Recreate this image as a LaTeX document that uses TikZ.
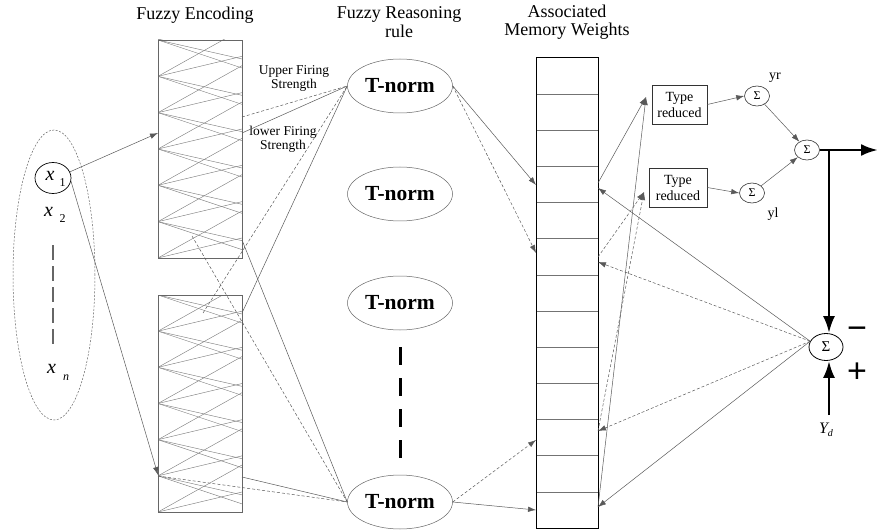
\documentclass[tikz,border=0pt]{standalone}
\usepackage{fontspec}
\setmainfont{Liberation Serif}
\newfontfamily\sansf{Liberation Sans}
\usetikzlibrary{arrows.meta,shapes.geometric}
\newcommand\xsubtxt[2]{{\fontsize{20}{20}\selectfont\itshape x}\hspace{5pt}\raisebox{-6pt}{\fontsize{12}{12}\selectfont #2#1}}
\begin{document}
\begin{tikzpicture}[x=1pt,y=-1pt,
  ln/.style={draw=black!65, line width=0.5pt},
  dl/.style={draw=black!65, line width=0.5pt, dash pattern=on 3pt off 2pt},
  hatch/.style={draw=black!50, line width=0.45pt},
  tip/.style={-{Latex[length=8pt,width=5.5pt]}},
  big/.style={line width=2.8pt, draw=black, -{Latex[length=17pt,width=12pt]}},
  tn/.style={ellipse, draw=black!60, line width=0.5pt, minimum width=105pt, minimum height=54pt, inner sep=0pt, font=\fontsize{21.5}{22}\selectfont\bfseries},
  sig/.style={ellipse, draw=black!80, line width=0.6pt, minimum width=25pt, minimum height=20pt, inner sep=0pt, font=\fontsize{12}{12}\selectfont},
  trbox/.style={draw=black!80, line width=0.7pt, minimum height=39pt, inner sep=0pt, align=center, font=\fontsize{14}{16}\selectfont},
  encbox/.style={draw=black!60, line width=0.7pt, minimum width=84pt, inner sep=0pt},
  ttl/.style={align=center, font=\fontsize{18}{18.5}\selectfont},
  lbl/.style={align=center, font=\fontsize{13.5}{14}\selectfont},
]
\useasboundingbox (0,0) rectangle (879,532);

% titles
\node[ttl] (tenc) at (195,15) {Fuzzy Encoding};
\node[ttl] (trea) at (399,22) {Fuzzy Reasoning\\rule};
\node[ttl] (tmem) at (567,22) {Associated\\Memory Weights};

% hatching of the encoding boxes
\begin{scope}
  \clip (158,40) rectangle (242,258);
  \foreach \i in {0,...,6}{
    \pgfmathsetmacro\yy{40+\i*36.33}
    \foreach \d in {-47,-20,19,28}{\draw[hatch] (158,\yy) -- (242,\yy+\d);}
  }
\end{scope}
\begin{scope}
  \clip (158,295) rectangle (242,512);
  \foreach \i in {0,...,6}{
    \pgfmathsetmacro\yy{295+\i*36.17}
    \foreach \d in {-47,-20,19,28}{\draw[hatch] (158,\yy) -- (242,\yy+\d);}
  }
\end{scope}
\node[encbox, minimum height=218pt] (enc1) at (200,149) {};
\node[encbox, minimum height=217pt] (enc2) at (200,403.5) {};

% inputs
\node[ellipse, draw=black!60, dashed, dash pattern=on 2pt off 1.5pt, line width=0.5pt, minimum width=82pt, minimum height=290pt, inner sep=0pt] (inp) at (54,275) {};
\node[ellipse, draw=black, line width=0.7pt, minimum width=36pt, minimum height=31pt, inner sep=0pt] (x1) at (53,178) {};
\node[anchor=base west, inner sep=0pt] (x1t) at (45.5,180.5) {\xsubtxt{1}{}};
\node[anchor=base west, inner sep=0pt] (x2t) at (44,216) {\xsubtxt{2}{\hspace{1.5pt}}};
\node[anchor=base west, inner sep=0pt] (xnt) at (47,373) {{\fontsize{20}{20}\selectfont\itshape x}\hspace{7pt}\raisebox{-7pt}{\fontsize{12}{12}\selectfont\itshape n}};
\coordinate (vd1) at (53,245);
\coordinate (vd2) at (53,347);
\draw[draw=black!60, line width=1.1pt, dash pattern=on 15pt off 6pt] (vd1) -- (vd2);

% firing strength labels
\node[lbl] (ufs) at (294,78) {Upper Firing\\Strength};
\node[lbl] (lfs) at (283,139) {lower Firing\\Strength};

% T-norm nodes
\node[tn] (t1) at (400,86) {T-norm};
\node[tn] (t2) at (400,194) {T-norm};
\node[tn] (t3) at (400,303) {T-norm};
\node[tn] (t4) at (400,502) {T-norm};
\coordinate (dd1) at (400,347);
\coordinate (dd2) at (400,458);
\draw[line width=3pt, dash pattern=on 18pt off 13pt] (dd1) -- (dd2);

% memory column
\node[draw=black, line width=1pt, minimum width=62pt, minimum height=470pt, inner sep=0pt] (mem) at (567,293) {};
\foreach \i in {1,...,12}{\draw[draw=black!55, line width=0.6pt] (536.5,58+\i*36.15) -- (597.5,58+\i*36.15);}

% points on the encoding boxes
\coordinate (e1in) at (158,133);
\coordinate (e2in) at (158,475);
\coordinate (e1a) at (242,117);
\coordinate (e1b) at (242,133);
\coordinate (e2a) at (203,313);
\coordinate (e2b) at (242,313);
\coordinate (e1c) at (192,236);
\coordinate (e1d) at (242,240);
\coordinate (e2c) at (158,476);
\coordinate (e2d) at (242,477);

% input arrows
\draw[ln,tip] (x1.20) -- (e1in);
\draw[ln,tip] (x1.-10) -- (e2in);

% encoding -> T-norm
\draw[dl] (e1a) -- (t1.west);
\draw[ln] (e1b) -- (t1.west);
\draw[dl] (e2a) -- (t1.west);
\draw[ln] (e2b) -- (t1.west);
\draw[dl] (e1c) -- (t4.west);
\draw[ln] (e1d) -- (t4.west);
\draw[dl] (e2c) -- (t4.west);
\draw[ln] (e2d) -- (t4.west);

% points on the memory column
\coordinate (mL1) at (536,185);
\coordinate (mL2) at (536,253);
\coordinate (mL3) at (536,440);
\coordinate (mL4) at (536,510);
\coordinate (mR1) at (598,183);
\coordinate (mR1b) at (598,188);
\coordinate (mR2) at (598,257);
\coordinate (mR2b) at (598,262);
\coordinate (mR3) at (598,431);
\coordinate (mR4) at (598,507);

% T-norm -> memory
\draw[ln,tip] (t1.east) -- (mL1);
\draw[dl,tip] (t1.east) -- (mL2);
\draw[dl,tip] (t4.east) -- (mL3);
\draw[ln,tip] (t4.east) -- (mL4);

% type reducers and sums
\node[trbox, minimum width=55pt] (tr1) at (679.5,104.5) {Type\\reduced};
\node[trbox, minimum width=58pt] (tr2) at (678,187.5) {Type\\reduced};
\coordinate (tr1in) at (646,97);
\coordinate (tr2in) at (644,192);
\node[sig] (sr) at (757,96) {Σ};
\node[sig] (sl) at (752,193) {Σ};
\node[sig] (ss) at (807,150) {Σ};
\node[font=\fontsize{14}{14}\selectfont] (yr) at (775,78) {yr};
\node[font=\fontsize{14}{14}\selectfont] (yl) at (773,214) {yl};

\draw[ln,tip] (mR1) -- (tr1in);
\draw[ln,tip] (mR4) -- (tr1in);
\draw[dl,tip] (mR2) -- (tr2in);
\draw[dl,tip] (mR3) -- (tr2in);
\draw[ln,tip] (tr1.east) -- (sr.west);
\draw[ln,tip] (tr2.east) -- (sl.west);
\draw[ln,tip] (sr) -- (ss);
\draw[ln,tip] (sl) -- (ss);

% error sum
\node[ellipse, draw=black, line width=0.8pt, minimum width=34pt, minimum height=27pt, inner sep=0pt, font=\fontsize{15}{15}\selectfont] (es) at (826,347) {Σ};
\node[font=\sansf\fontsize{34}{34}\selectfont] (minus) at (857,333) {−};
\node[font=\sansf\fontsize{34}{34}\selectfont] (plus) at (857,373) {+};
\node[anchor=base, inner sep=0pt] (ydl) at (826,433) {{\fontsize{16}{16}\selectfont\itshape Y}\raisebox{-3pt}{\fontsize{10}{10}\selectfont\itshape d}};

\coordinate (outp) at (878,150);
\coordinate (jn) at (829,150);
\coordinate (ydc) at (829,415);
\draw[big] (ss.east) -- (outp);
\draw[big] (jn) -- (jn |- es.north);
\draw[big] (ydc) -- (ydc |- es.south);

% error -> memory
\draw[ln,tip] (es.160) -- (mR1b);
\draw[dl,tip] (es.160) -- (mR2b);
\draw[dl,tip] (es.160) -- (mR3);
\draw[ln,tip] (es.160) -- (mR4);
\end{tikzpicture}
\end{document}
